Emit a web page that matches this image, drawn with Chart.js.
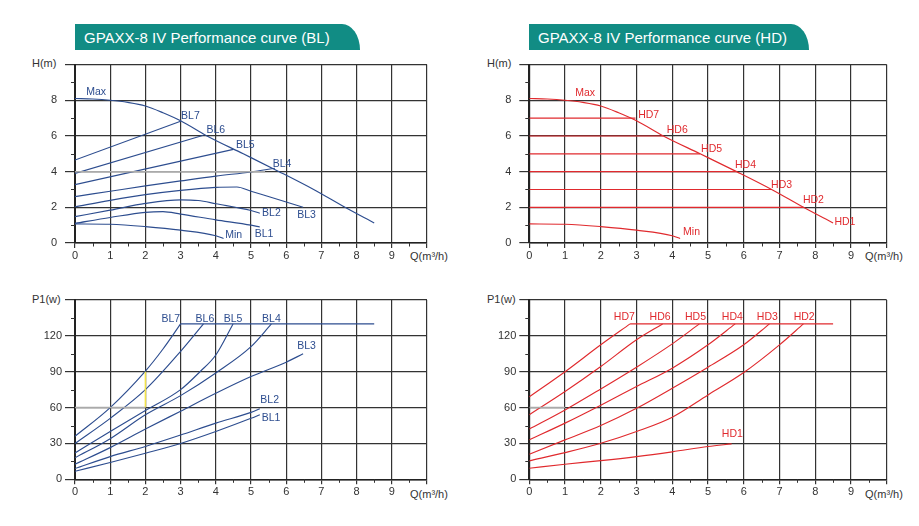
<!DOCTYPE html>
<html><head><meta charset="utf-8">
<script src="https://cdn.jsdelivr.net/npm/chart.js@4.4.1/dist/chart.umd.min.js"></script>
<style>
html,body{margin:0;padding:0;background:#fff;}
body{width:919px;height:526px;position:relative;overflow:hidden;font-family:"Liberation Sans",Arial,sans-serif;}
.banner{position:absolute;top:24px;height:26px;line-height:27px;background:#118c84;color:#fff;font-size:15px;padding-left:9px;box-sizing:border-box;border-top-right-radius:18px 26px;white-space:nowrap;}
.ax{position:absolute;font-size:11px;color:#333;line-height:12px;white-space:nowrap;}
.pane{position:absolute;}
</style></head><body>
<div class="banner" style="left:75px;width:285px;">GPAXX-8 IV Performance curve (BL)</div>
<div class="banner" style="left:529px;width:280px;">GPAXX-8 IV Performance curve (HD)</div>
<div class="ax" style="left:32px;top:57px;">H(m)</div>
<div class="ax" style="left:487px;top:57px;">H(m)</div>
<div class="ax" style="left:32px;top:293px;">P1(w)</div>
<div class="ax" style="left:487px;top:293px;">P1(w)</div>
<div class="ax" style="left:410px;top:250px;">Q(m³/h)</div>
<div class="ax" style="left:865px;top:250px;">Q(m³/h)</div>
<div class="ax" style="left:410px;top:488px;">Q(m³/h)</div>
<div class="ax" style="left:865px;top:488px;">Q(m³/h)</div>
<div class="pane" style="left:0;top:50px;width:460px;height:230px;"><canvas id="c1"></canvas></div>
<div class="pane" style="left:460px;top:50px;width:459px;height:230px;"><canvas id="c2"></canvas></div>
<div class="pane" style="left:0;top:285px;width:460px;height:230px;"><canvas id="c3"></canvas></div>
<div class="pane" style="left:460px;top:285px;width:459px;height:230px;"><canvas id="c4"></canvas></div>
<script>
// ---- tick labels ----
const qTicks = [0,1,2,3,4,5,6,7,8,9,10];
const qTickLabels = ['0','1','2','3','4','5','6','7','8','9',''];
const qMinor = [0.5,1.5,2.5,3.5,4.5,5.5,6.5,7.5,8.5,9.5];
const hTicks = [0,2,4,6,8,10];
const hTickLabels = ['0','2','4','6','8',''];
const hMinor = [1,3,5,7,9];
const pTicks = [0,30,60,90,120,150];
const pTickLabels = ['0','30','60','90','120',''];
const pMinor = [15,45,75,105,135];

// ---- head curves (Q m3/h, H m) ----
const maxQ = [0,0.5,1,1.5,2,2.5,3,3.75,4.78,5.8,6.78,7.67,8.5];
const maxH = [8.1,8.07,8.0,7.88,7.68,7.3,6.85,6.0,5.0,4.0,3.0,2.0,1.12];
const minQ = [0,1,2,3,4,4.22];
const minH = [1.07,1.05,0.92,0.72,0.41,0.25];
const bl7Q = [0,3],    bl7H = [4.65,6.82];
const bl6Q = [0,3.65], bl6H = [3.9,6.04];
const bl5Q = [0,4.5],  bl5H = [3.27,5.25];
const bl4Q = [0,1,2,3,4,5,5.68], bl4H = [2.6,2.9,3.2,3.48,3.75,3.98,4.19];
const bl3Q = [0,1,2,3,4,4.6,5,6,6.48], bl3H = [2.03,2.39,2.71,2.95,3.12,3.14,2.9,2.3,2.0];
const bl2Q = [0,1,2,3,3.5,4,5,5.25], bl2H = [1.48,1.84,2.22,2.42,2.38,2.2,1.82,1.67];
const bl1Q = [0,1,2,2.5,3,4,5,5.25], bl1H = [1.1,1.43,1.72,1.76,1.62,1.3,1.0,0.9];
const hdLevels = [7,6,5,4,3,2];
const hdEndQ = [2.97,3.75,4.78,5.8,6.78,7.67];

// ---- power curves (Q m3/h, P1 W) ----
const blMaxPQ = [3,8.5], blMaxP = [130,130];
const bp7Q = [0,1,2,2.5,3], bp7P = [36,60,90.5,109,130];
const bp6Q = [0,1,2,3,3.65], bp6P = [30,51,75,107,130];
const bp5Q = [0,1,2,3,3.55,4,4.49], bp5P = [22,40,57.5,75,90,104,130];
const bp4Q = [0,1,2,3,4,5,5.58], bp4P = [18,34,54,70,89,111,130];
const bp3Q = [0,1,2,3,4,5,6,6.48], bp3P = [12.6,26.5,42,57,72,86,98,105];
const bp2Q = [0,1,2,3,4,5,5.25], bp2P = [9,19,27.5,37,47,56,59];
const bp1Q = [0,1,2,3,4,5,5.25], bp1P = [6.7,14,21.8,30,40,51,54];
const hdMaxPQ = [2.82,8.5], hdMaxP = [130,130];
const hp7Q = [0,1,2,2.82], hp7P = [69,90,112.5,130];
const hp6Q = [0,1,2,3,3.73], hp6P = [54,73.4,94.3,116.7,130];
const hp5Q = [0,1,2,3,4,4.76], hp5P = [42,58,75.6,93.8,113.3,130];
const hp4Q = [0,1,2,3,4,5,5.76], hp4P = [33,47,62,77.6,93,112.5,130];
const hp3Q = [0,1,2,3,4,5,6,6.72], hp3P = [21,33,45,59.4,76.2,93.8,112.5,130];
const hp2Q = [0,1,2,3,4,5,6,7,7.67], hp2P = [15.4,22.3,30.1,40,52,70.6,89.3,112.5,130];
const hp1Q = [0,1,2,3,4,5,5.66], hp1P = [9.2,12.6,15.6,19,23,27.4,29.6];

// ---- highlight marks visible in the picture ----
const blHeadGreyQ = [0,5.4], blHeadGreyH = [4,4];
const blPowGreyQ = [0,2], blPowGreyP = [60,60];
const blPowYellowQ = [2,2], blPowYellowP = [60,90];
const hdPowGreyQ = [0,1], hdPowGreyP = [60,60];

// ---- curve labels ----
const blHeadLab = ['Max','BL7','BL6','BL5','BL4','BL3','BL2','BL1','Min'];
const blHeadLabQ = [0.6,3.28,4.0,4.84,5.88,6.58,5.58,5.37,4.51];
const blHeadLabH = [8.46,7.09,6.33,5.49,4.45,1.54,1.65,0.48,0.45];
const hdHeadLab = ['Max','HD7','HD6','HD5','HD4','HD3','HD2','HD1','Min'];
const hdHeadLabQ = [1.56,3.34,4.14,5.1,6.05,7.06,7.95,8.83,4.54];
const hdHeadLabH = [8.42,7.18,6.31,5.25,4.36,3.25,2.39,1.19,0.63];
const blPowLab = ['BL7','BL6','BL5','BL4','BL3','BL2','BL1'];
const blPowLabQ = [2.72,3.69,4.49,5.58,6.58,5.53,5.57];
const blPowLabP = [134.2,134.2,134.2,134.2,111.4,66.1,51.6];
const hdPowLab = ['HD7','HD6','HD5','HD4','HD3','HD2','HD1'];
const hdPowLabQ = [2.66,3.66,4.65,5.68,6.66,7.69,5.68];
const hdPowLabP = [135.4,135.4,135.4,135.4,135.4,135.4,37.7];

const BLUE = '#2d4d8f', RED = '#e02a2e';
const FONT = '"Liberation Sans", Arial, sans-serif';
const GRID = '#333';

function pts(xs, ys){ return xs.map((x,i)=>({x:x, y:ys[i]})); }
function ds(xs, ys, color, curved, w){
  return {data:pts(xs,ys), borderColor:color, borderWidth:w||1.15, pointRadius:0, fill:false,
    tension: curved?0.4:0, cubicInterpolationMode: curved?'monotone':'default'};
}

const decor = {
  id:'decor',
  afterDraw(chart, args, o){
    const {ctx, chartArea:a, scales:{x,y}} = chart;
    ctx.save();
    ctx.strokeStyle = GRID; ctx.lineWidth = 1;
    o.minorX.forEach(v=>{ const px=Math.round(x.getPixelForValue(v))+0.5;
      ctx.beginPath(); ctx.moveTo(px,a.bottom); ctx.lineTo(px,a.bottom+3.5); ctx.stroke(); });
    o.minorY.forEach(v=>{ const py=Math.round(y.getPixelForValue(v))+0.5;
      ctx.beginPath(); ctx.moveTo(a.left-4,py); ctx.lineTo(a.left,py); ctx.stroke(); });
    ctx.fillStyle = o.color; ctx.font = '10.5px ' + FONT;
    ctx.textAlign = 'center'; ctx.textBaseline = 'middle';
    o.labels.forEach((t,i)=> ctx.fillText(t, x.getPixelForValue(o.lq[i]), y.getPixelForValue(o.lv[i])));
    ctx.restore();
  }
};

function make(id, datasets, yCfg, area, color, labels){
  new Chart(document.getElementById(id), {
    type:'line',
    data:{datasets:datasets},
    plugins:[decor],
    options:{
      responsive:true, maintainAspectRatio:false, animation:false,
      layout:{padding:{left:0, top:area.top, right:area.right, bottom:0}},
      plugins:{legend:{display:false}, tooltip:{enabled:false},
        decor:{minorX:qMinor, minorY:yCfg.minor, color:color, labels:labels[0], lq:labels[1], lv:labels[2]}},
      scales:{
        x:{type:'linear', min:0, max:10,
          afterBuildTicks:s=>{ s.ticks = qTicks.map(v=>({value:v})); },
          afterFit:s=>{ s.height = area.xh; },
          ticks:{callback:(v,i)=>qTickLabels[i], color:'#333', font:{size:11, family:FONT}, padding:1, maxRotation:0, autoSkip:false},
          grid:{color:GRID, lineWidth:1.2, tickLength:5, tickColor:GRID},
          border:{color:'#222', width:1.5}},
        y:{type:'linear', min:0, max:yCfg.max,
          afterBuildTicks:s=>{ s.ticks = yCfg.ticks.map(v=>({value:v})); },
          afterFit:s=>{ s.width = area.yw; },
          ticks:{callback:(v,i)=>yCfg.labels[i], color:'#333', font:{size:11, family:FONT}, padding:yCfg.pad, autoSkip:false},
          grid:{color:GRID, lineWidth:1.2, tickLength:10, tickColor:GRID},
          border:{color:'#222', width:2}}
      }
    }
  });
}

const headY = {max:10, ticks:hTicks, labels:hTickLabels, minor:hMinor, pad:8};
const powY = {max:150, ticks:pTicks, labels:pTickLabels, minor:pMinor, pad:3};

// BL head
make('c1', [
  ds(blHeadGreyQ, blHeadGreyH, '#aaaaaa', false, 1.5),
  ds(maxQ, maxH, BLUE, true), ds(minQ, minH, BLUE, true),
  ds(bl7Q, bl7H, BLUE, false), ds(bl6Q, bl6H, BLUE, false), ds(bl5Q, bl5H, BLUE, false),
  ds(bl4Q, bl4H, BLUE, true), ds(bl3Q, bl3H, BLUE, true), ds(bl2Q, bl2H, BLUE, true), ds(bl1Q, bl1H, BLUE, true)
], headY, {top:14.3, right:33, xh:37, yw:75}, BLUE, [blHeadLab, blHeadLabQ, blHeadLabH]);

// HD head
const hdHeadSets = [ds(maxQ, maxH, RED, true), ds(minQ, minH, RED, true)];
hdLevels.forEach((lv,i)=> hdHeadSets.push(ds([0, hdEndQ[i]], [lv, lv], RED, false)));
make('c2', hdHeadSets, headY, {top:14.3, right:32.3, xh:37, yw:69.3}, RED, [hdHeadLab, hdHeadLabQ, hdHeadLabH]);

// BL power
make('c3', [
  ds(blPowGreyQ, blPowGreyP, '#aaaaaa', false, 1.5), ds(blPowYellowQ, blPowYellowP, '#f2e34a', false, 1.5),
  ds(blMaxPQ, blMaxP, BLUE, false),
  ds(bp7Q, bp7P, BLUE, true), ds(bp6Q, bp6P, BLUE, true), ds(bp5Q, bp5P, BLUE, true), ds(bp4Q, bp4P, BLUE, true),
  ds(bp3Q, bp3P, BLUE, true), ds(bp2Q, bp2P, BLUE, true), ds(bp1Q, bp1P, BLUE, true)
], powY, {top:15, right:33, xh:35.7, yw:75}, BLUE, [blPowLab, blPowLabQ, blPowLabP]);

// HD power
make('c4', [
  ds(hdPowGreyQ, hdPowGreyP, '#aaaaaa', false, 1.5),
  ds(hdMaxPQ, hdMaxP, RED, false),
  ds(hp7Q, hp7P, RED, true), ds(hp6Q, hp6P, RED, true), ds(hp5Q, hp5P, RED, true), ds(hp4Q, hp4P, RED, true),
  ds(hp3Q, hp3P, RED, true), ds(hp2Q, hp2P, RED, true), ds(hp1Q, hp1P, RED, true)
], powY, {top:15, right:32.3, xh:35.7, yw:69.3}, RED, [hdPowLab, hdPowLabQ, hdPowLabP]);
</script>
</body></html>
